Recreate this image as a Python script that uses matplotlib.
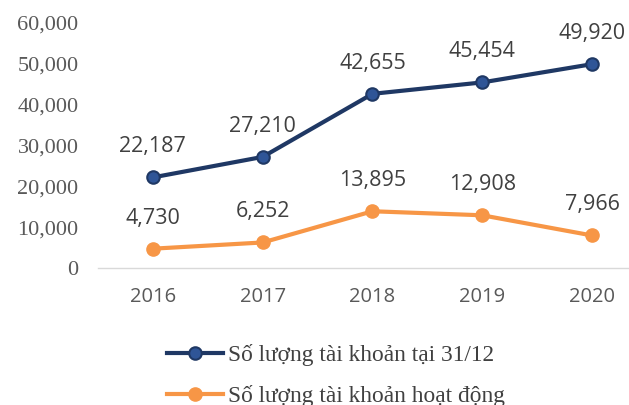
import matplotlib.pyplot as plt

years = ["2016", "2017", "2018", "2019", "2020"]
tong_tk = [22187, 27210, 42655, 45454, 49920]
tk_hoat_dong = [4730, 6252, 13895, 12908, 7966]
y_ticks = [0, 10000, 20000, 30000, 40000, 50000, 60000]

navy = "#1F3864"
blue_face = "#2F5597"
orange = "#F79646"
txt = "#404040"

fig = plt.figure(figsize=(6.29, 4.05), dpi=100)
ax = fig.add_axes([98 / 629, 137 / 405, 549 / 629, 245 / 405])

x = range(len(years))
ax.plot(x, tong_tk, color=navy, lw=3, marker="o", ms=9,
        mfc=blue_face, mec=navy, mew=1.5, label="Số lượng tài khoản tại 31/12")
ax.plot(x, tk_hoat_dong, color=orange, lw=3, marker="o", ms=9.5,
        mfc=orange, mec=orange, label="Số lượng tài khoản hoạt động")

for xi, v in zip(x, tong_tk):
    ax.annotate(f"{v:,}", (xi, v), xytext=(0, 22), textcoords="offset points",
                ha="center", va="center", fontsize=15.5, color=txt, family="Open Sans")
for xi, v in zip(x, tk_hoat_dong):
    ax.annotate(f"{v:,}", (xi, v), xytext=(0, 22), textcoords="offset points",
                ha="center", va="center", fontsize=15.5, color=txt, family="Open Sans")

ax.set_xlim(-0.5, 4.5)
ax.set_ylim(0, 60000)
ax.set_xticks(list(x))
ax.set_xticklabels(years, family="Open Sans", fontsize=14.5, color="#595959")
ax.set_yticks(y_ticks)
ax.set_yticklabels([f"{t:,}" for t in y_ticks], family="Liberation Serif",
                   fontsize=16, color="#595959")
ax.tick_params(axis="both", length=0)
ax.tick_params(axis="y", pad=14)
ax.tick_params(axis="x", pad=14)
for s in ["top", "right", "left"]:
    ax.spines[s].set_visible(False)
ax.spines["bottom"].set_color("#D9D9D9")
ax.spines["bottom"].set_linewidth(1)

leg = fig.legend(loc="upper left", bbox_to_anchor=(146 / 629, 1 - 323 / 405),
                 frameon=False, handlelength=2.4, handletextpad=0.2,
                 labelspacing=0.82, prop={"family": "Liberation Serif", "size": 16.8})
for t in leg.get_texts():
    t.set_color(txt)

fig.savefig("out.png", dpi=100)
